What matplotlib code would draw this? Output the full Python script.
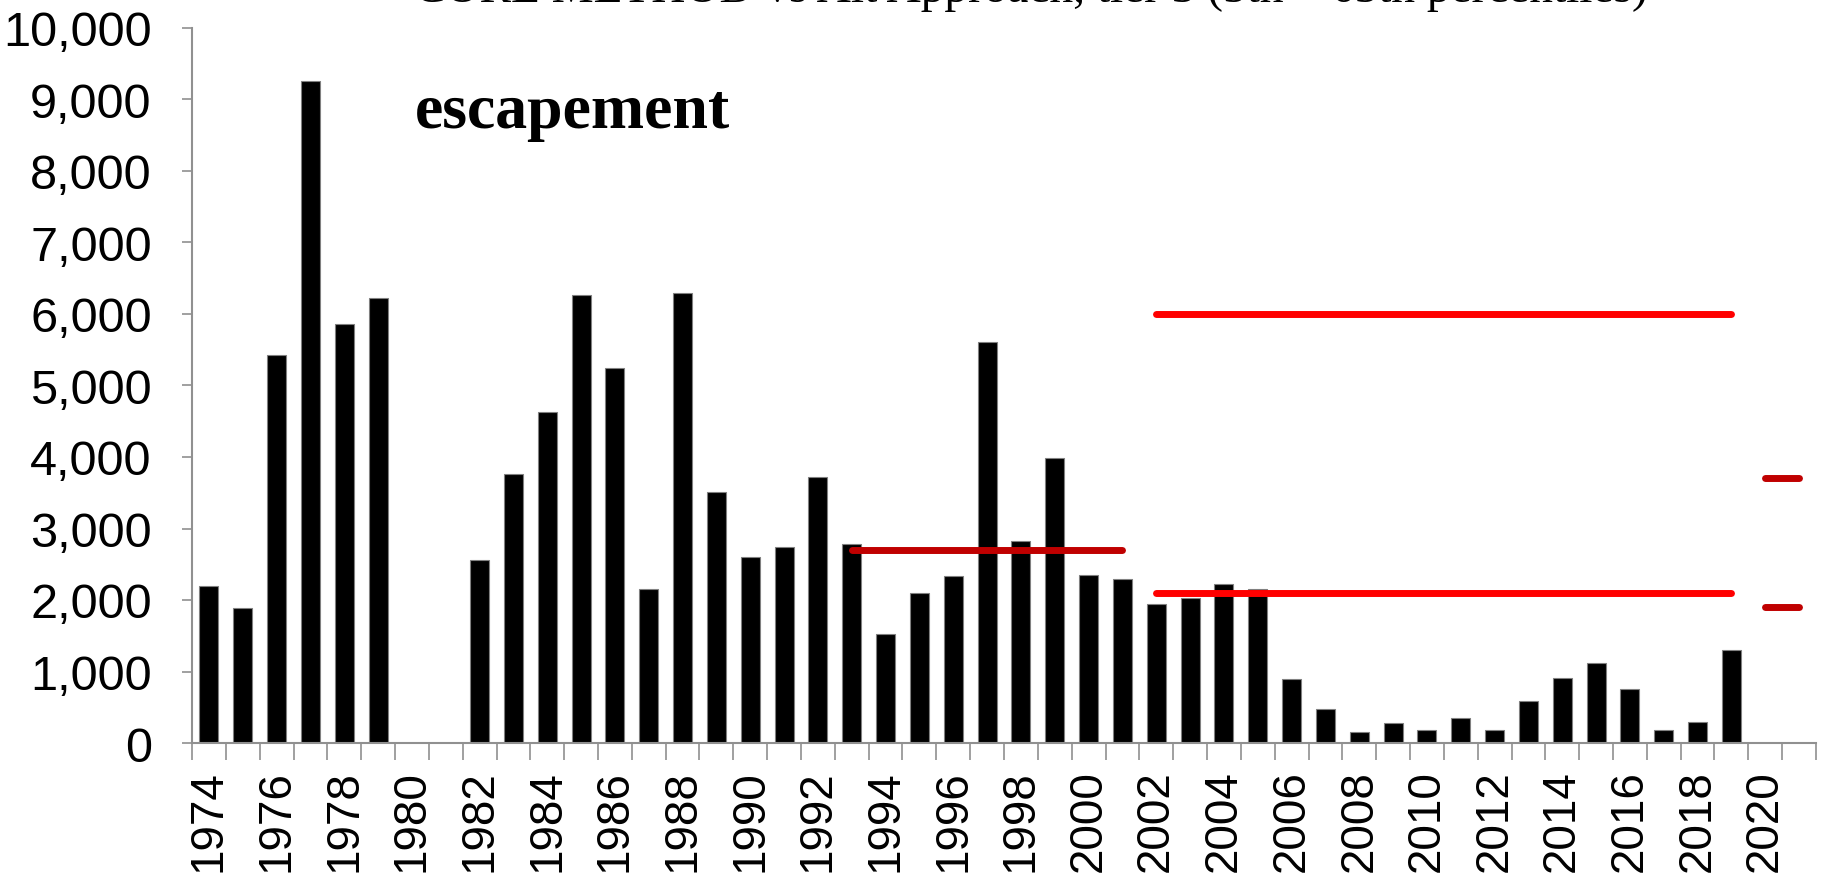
import numpy as np
import matplotlib
matplotlib.use("Agg")
import matplotlib.pyplot as plt

years = list(range(1974, 2022))
escapement = [2200, 1890, 5430, 9260, 5860, 6230, np.nan, np.nan, 2560, 3760,
              4630, 6260, 5240, 2160, 6290, 3510, 2605, 2740, 3720, 2780,
              1525, 2100, 2330, 5615, 2830, 3990, 2345, 2295, 1950, 2025,
              2225, 2150, 890, 480, 155, 275, 180, 350, 185, 590,
              915, 1125, 755, 180, 300, 1300, np.nan, np.nan]

old_goal_years = list(range(1993, 2002))
old_goal = [2700] * len(old_goal_years)
new_goal_years = list(range(2002, 2020))
new_upper = [6000] * len(new_goal_years)
new_lower = [2100] * len(new_goal_years)
alt_years = [2020, 2021]
alt_upper = [3700, 3700]
alt_lower = [1900, 1900]

title = "CORE METHOD vs Alt Approach, tier 3 (5th \u2013 65th percentiles)"
panel_label = "escapement"

W, H = 1823, 879
fig = plt.figure(figsize=(W / 100, H / 100), dpi=100)
ax = fig.add_axes([192 / W, 1 - 744 / H, (1816 - 192) / W, (744 - 29) / H])

idx = {y: i for i, y in enumerate(years)}
x = np.arange(len(years))
ax.bar(x, escapement, width=0.56, color="black", edgecolor="#808080", linewidth=0.8, zorder=2)

def plot_seg(yrs, vals, color):
    ax.plot([idx[y] for y in yrs], vals, color=color, linewidth=5,
            solid_capstyle="round", zorder=3)

plot_seg(old_goal_years, old_goal, "#C00000")
plot_seg(new_goal_years, new_upper, "#FF0000")
plot_seg(new_goal_years, new_lower, "#FF0000")
plot_seg(alt_years, alt_upper, "#C00000")
plot_seg(alt_years, alt_lower, "#C00000")

ax.set_xlim(-0.5, len(years) - 0.5)
ax.set_ylim(0, 10000)
ax.set_yticks(np.arange(0, 10001, 1000))
ax.set_yticklabels([f"{v:,}" for v in range(0, 10001, 1000)])

ax.set_xticks(x[::2])
ax.set_xticklabels([str(y) for y in years[::2]], rotation=90)
ax.set_xticks(np.arange(-0.5, len(years), 1), minor=True)
ax.tick_params(axis="x", which="major", length=0, pad=19)
ax.tick_params(axis="x", which="minor", length=12, width=1.2, color="#909090")
ax.tick_params(axis="y", length=7, width=1.2, color="#909090", pad=22)

for lab in ax.get_yticklabels():
    lab.set_fontfamily("Liberation Sans")
    lab.set_fontsize(35)
    lab.set_color("black")
for lab in ax.get_xticklabels():
    lab.set_fontfamily("Liberation Sans")
    lab.set_fontsize(33)
    lab.set_color("black")

for s in ["top", "right"]:
    ax.spines[s].set_visible(False)
for s in ["left", "bottom"]:
    ax.spines[s].set_color("#909090")
    ax.spines[s].set_linewidth(1.5)

fig.text(415 / W, 1 - 128 / H, panel_label, fontfamily="Liberation Serif",
         fontweight="bold", fontsize=46, va="baseline", ha="left")
fig.text(1031 / W, 1 - 1.5 / H, title, fontfamily="Liberation Serif",
         fontsize=34, va="baseline", ha="center")

fig.savefig("out.png", dpi=100)
